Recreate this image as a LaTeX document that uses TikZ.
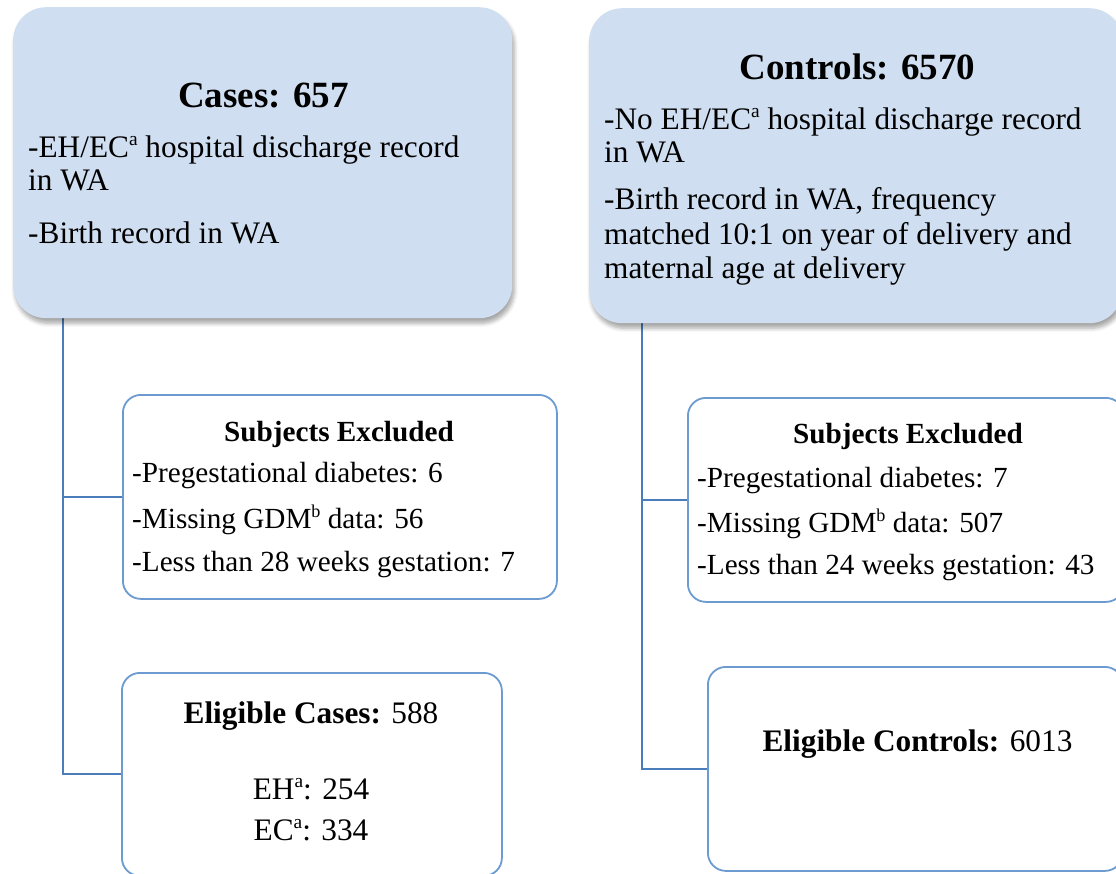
\documentclass[tikz,border=0pt]{standalone}
\usepackage{fontspec}
\setmainfont{Liberation Serif}
\usetikzlibrary{shadows.blur}
\definecolor{boxfill}{RGB}{207,222,240}
\definecolor{boxline}{RGB}{108,155,210}
\definecolor{connline}{RGB}{74,126,187}
\newcommand{\supmark}[1]{\raisebox{0.37em}{\scalebox{0.62}{#1}}}
\pgfdeclarelayer{background}
\pgfsetlayers{background,main}
\tikzset{
  topbox/.style={rectangle, rounded corners=33pt, fill=boxfill, draw=none, inner sep=0pt,
    blur shadow={shadow xshift=2pt, shadow yshift=-5pt, shadow blur steps=6, shadow opacity=35, shadow blur radius=4pt}},
  lowbox/.style={rectangle, rounded corners=18pt, fill=white, draw=boxline, line width=1.8pt, inner sep=0pt},
  conn/.style={draw=connline, line width=2pt},
  bigtxt/.style={inner sep=0pt, font=\fontsize{31.3}{33}\selectfont},
  bighead/.style={inner sep=0pt, font=\fontsize{37}{40}\selectfont\bfseries},
  smalltxt/.style={inner sep=0pt, font=\fontsize{29.2}{32}\selectfont},
  smallhead/.style={inner sep=0pt, font=\fontsize{29.2}{32}\selectfont\bfseries},
}
\begin{document}
\begin{tikzpicture}[x=1pt, y=-1pt]
\useasboundingbox (0,0) rectangle (1116,873);

% top boxes
\node[topbox, minimum width=499pt, minimum height=311pt, anchor=north west] (cases) at (13,7) {};
\node[topbox, minimum width=533pt, minimum height=315pt, anchor=north west] (controls) at (589,8) {};

% lower boxes
\node[lowbox, minimum width=434pt, minimum height=204pt, anchor=north west] (subjA) at (122,394) {};
\node[lowbox, minimum width=380pt, minimum height=203pt, anchor=north west] (eligA) at (121,672) {};
\node[lowbox, minimum width=436pt, minimum height=204pt, anchor=north west] (subjB) at (687,397) {};
\node[lowbox, minimum width=415pt, minimum height=204pt, anchor=north west] (eligB) at (707,666) {};

% connectors
\begin{pgfonlayer}{background}
\draw[conn] ([xshift=50pt]cases.south west) |- (subjA.west);
\draw[conn] ([xshift=50pt]cases.south west) |- (eligA.west);
\draw[conn] ([xshift=53pt]controls.south west) |- (subjB.west);
\draw[conn] ([xshift=53pt]controls.south west) |- (eligB.west);
\end{pgfonlayer}

% Cases text
\node[bighead, anchor=base] (casesH) at (263.5,107) {Cases: 657};
\node[bigtxt, anchor=base west] (casesL1) at (28,157) {-EH/EC\supmark{a} hospital discharge record};
\node[bigtxt, anchor=base west] (casesL2) at (28,190) {in WA};
\node[bigtxt, anchor=base west] (casesL3) at (28,243) {-Birth record in WA};

% Controls text
\node[bighead, anchor=base] (ctrlH) at (857.5,79) {Controls: 6570};
\node[bigtxt, anchor=base west] (ctrlL1) at (604,129) {-No EH/EC\supmark{a} hospital discharge record};
\node[bigtxt, anchor=base west] (ctrlL2) at (604,162) {in WA};
\node[bigtxt, anchor=base west] (ctrlL3) at (604,209) {-Birth record in WA, frequency};
\node[bigtxt, anchor=base west] (ctrlL4) at (604,244) {matched 10:1 on year of delivery and};
\node[bigtxt, anchor=base west] (ctrlL5) at (604,278) {maternal age at delivery};

% Subjects excluded (cases)
\node[smallhead, anchor=base] (subjAH) at (339,441) {Subjects Excluded};
\node[smalltxt, anchor=base west] (subjA1) at (132,482) {-Pregestational diabetes: 6};
\node[smalltxt, anchor=base west] (subjA2) at (132,528) {-Missing GDM\supmark{b} data: 56};
\node[smalltxt, anchor=base west] (subjA3) at (132,571) {-Less than 28 weeks gestation: 7};

% Subjects excluded (controls)
\node[smallhead, anchor=base] (subjBH) at (908,443) {Subjects Excluded};
\node[smalltxt, anchor=base west] (subjB1) at (697,487) {-Pregestational diabetes: 7};
\node[smalltxt, anchor=base west] (subjB2) at (697,532) {-Missing GDM\supmark{b} data: 507};
\node[smalltxt, anchor=base west] (subjB3) at (697,574) {-Less than 24 weeks gestation: 43};

% Eligible cases
\node[bigtxt, anchor=base] (eligAH) at (311,723) {\textbf{Eligible Cases:} 588};
\node[bigtxt, anchor=base] (eligA1) at (311,799) {EH\supmark{a}: 254};
\node[bigtxt, anchor=base] (eligA2) at (311,840) {EC\supmark{a}: 334};

% Eligible controls
\node[bigtxt, anchor=base] (eligBH) at (917.5,751) {\textbf{Eligible Controls:} 6013};
\end{tikzpicture}
\end{document}
